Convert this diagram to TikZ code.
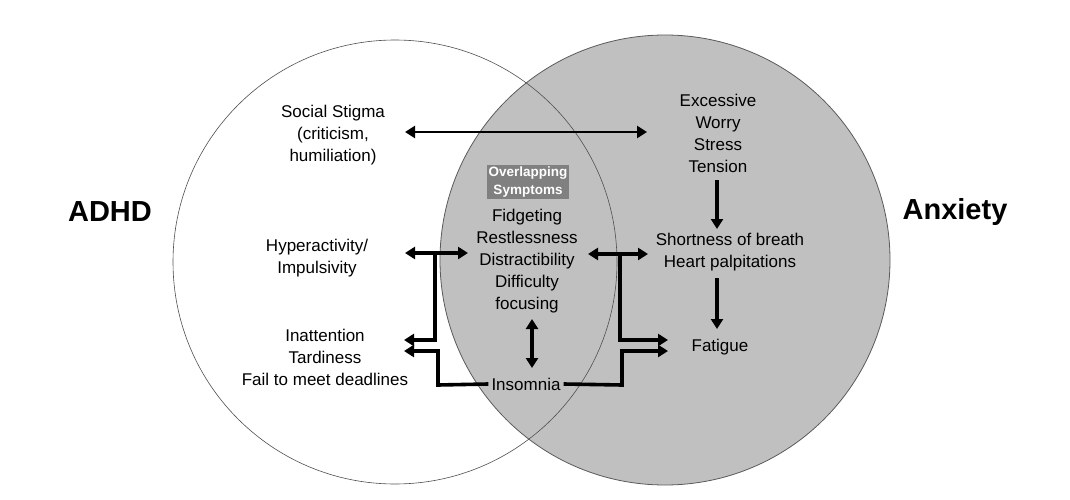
\documentclass[tikz,border=0pt]{standalone}
\usepackage{fontspec}
\setmainfont{Liberation Sans}
\usetikzlibrary{arrows.meta}
\begin{document}
\begin{tikzpicture}[x=1pt,y=-1pt,
  txt/.style={align=center,font=\fontsize{17}{22}\selectfont,inner sep=0pt},
  big/.style={font=\fontsize{29}{30}\selectfont\bfseries,inner sep=0pt},
  arr/.style={line width=3.6pt,-{Triangle[length=10pt,width=12pt]}},
  darr/.style={line width=3.6pt,{Triangle[length=10pt,width=12pt]}-{Triangle[length=10pt,width=12pt]}}]
\useasboundingbox (0,0) rectangle (1070,500);
\fill[white] (0,0) rectangle (1070,500);
\draw[fill={rgb,255:red,192;green,192;blue,192},draw={rgb,255:red,90;green,90;blue,90},line width=0.8pt] (665,260) circle (225);
\draw[draw={rgb,255:red,80;green,80;blue,80},line width=0.6pt] (395,262) circle (222);
\node[big] (adhd) at (110,212) {ADHD};
\node[big] (anx) at (955,212) {Anxiety};
\node[txt] (ss) at (333,135) {Social Stigma\\(criticism,\\humiliation)};
\node[txt] (ex) at (718,133) {Excessive\\Worry\\Stress\\Tension};
\node[fill={rgb,255:red,128;green,128;blue,128},text=white,align=center,font=\fontsize{13.5}{18}\selectfont\bfseries,inner sep=1.5pt] (ov) at (528,182) {Overlapping\\Symptoms};
\node[txt] (fid) at (527,261) {Fidgeting\\Restlessness\\Distractibility\\Difficulty\\focusing};
\node[txt] (hyp) at (317,258) {Hyperactivity/\\Impulsivity};
\node[txt] (sob) at (730,252) {Shortness of breath\\Heart palpitations};
\node[txt] (ina) at (325,357) {Inattention\\Tardiness\\Fail to meet deadlines};
\node[txt] (fat) at (720,347) {Fatigue};
\node[txt] (ins) at (526,384) {Insomnia};
\coordinate (a1) at (405,132); \coordinate (a2) at (647,132);
\draw[darr,line width=2.4pt] (a1) -- (a2);
\draw[arr] (717,180) -- (717,229);
\draw[arr] (717,278) -- (717,329);
\coordinate (h1) at (405,253); \coordinate (h2) at (468,253);
\draw[darr] (h1) -- (h2);
\coordinate (j1) at (435,253);
\draw[arr] (j1) -- (435,340) -- (404,340);
\draw[arr] (ins.west) ++(-3,0) -- (438,385) -- (438,351) -- (404,351);
\draw[darr] (588,254) -- (648,254);
\draw[arr] (620,254) -- (620,340) -- (668,340);
\draw[arr] (ins.east) ++(3,0) -- (622,385) -- (622,351) -- (668,351);
\draw[darr] (532,319) -- (532,368);
\end{tikzpicture}
\end{document}
